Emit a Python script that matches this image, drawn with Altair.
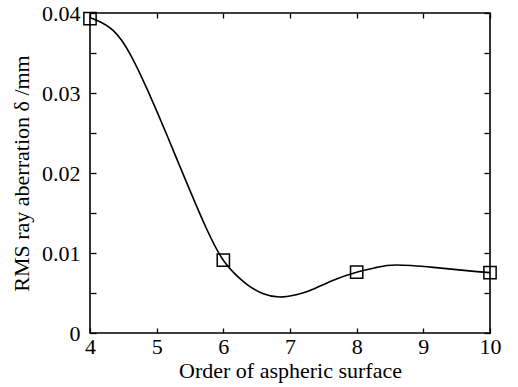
import altair as alt
import pandas as pd

# measured data points (markers)
order = [4, 6, 8, 10]
rms = [0.0393, 0.0091, 0.0076, 0.00755]

# fitted curve
curve_x = [4.0, 4.1, 4.35, 4.6, 4.85, 5.1, 5.25, 5.5, 5.75, 6.0, 6.25, 6.4, 6.6,
           6.85, 7.1, 7.3, 7.65, 8.0, 8.3, 8.6, 9.15, 9.65, 10.0]
curve_y = [0.0394, 0.0391, 0.0378, 0.0349, 0.0306, 0.0258, 0.0228, 0.0178, 0.0130,
           0.0091, 0.0068, 0.0058, 0.0049, 0.0045, 0.0048, 0.0053, 0.0066, 0.0076,
           0.0082, 0.0085, 0.0082, 0.0078, 0.00755]

x_ticks = [4, 5, 6, 7, 8, 9, 10]
y_ticks = [0, 0.005, 0.01, 0.015, 0.02, 0.025, 0.03, 0.035, 0.04]

pts = pd.DataFrame({"order": order, "rms": rms})
crv = pd.DataFrame({"order": curve_x, "rms": curve_y})

FONT = "Liberation Serif"
xscale = alt.Scale(domain=[4, 10], nice=False)
yscale = alt.Scale(domain=[0, 0.04], nice=False)

line = alt.Chart(crv).mark_line(color="black", strokeWidth=1.6, interpolate="natural").encode(
    x=alt.X("order:Q", scale=xscale,
            axis=alt.Axis(values=x_ticks, offset=-5, tickSize=5, domain=False,
                          labelPadding=3, format="d", labelFlush=False,
                          title="Order of aspheric surface", titlePadding=3)),
    y=alt.Y("rms:Q", scale=yscale,
            axis=alt.Axis(values=y_ticks, offset=-6, tickSize=6, domain=False,
                          labelPadding=10, format=".3~f",
                          labelExpr="length(datum.label) > 4 ? '' : datum.label",
                          labelFlush=False, labelOverlap=False,
                          title="RMS ray aberration δ /mm", titlePadding=8)),
)

frame_axes = alt.Chart(pts).mark_point(opacity=0).encode(
    x=alt.X("order:Q", scale=xscale,
            axis=alt.Axis(orient="top", values=x_ticks, offset=-5, tickSize=5,
                          domain=False, labels=False, title=None)),
    y=alt.Y("rms:Q", scale=yscale,
            axis=alt.Axis(orient="right", values=y_ticks, offset=-6, tickSize=6,
                          domain=False, labels=False, title=None)),
)

markers = alt.Chart(pts).mark_point(shape="square", size=150, filled=False,
                                     color="black", strokeWidth=1.5, opacity=1).encode(
    x=alt.X("order:Q", scale=xscale, axis=None),
    y=alt.Y("rms:Q", scale=yscale, axis=None),
)

chart = alt.layer(line, frame_axes, markers).resolve_axis(
    x="independent", y="independent"
).properties(
    width=400, height=320,
    autosize=alt.AutoSizeParams(type="none"),
    padding={"left": 90, "top": 13, "right": 28, "bottom": 54},
    background="white",
).configure_view(
    stroke="black", strokeWidth=1.6
).configure_axis(
    labelFont=FONT, titleFont=FONT, labelFontSize=22, titleFontSize=22,
    titleFontWeight="normal", labelColor="black", titleColor="black",
    tickColor="black", tickWidth=1.3, grid=False,
)

chart.save("out.html", embed_options={"renderer": "svg", "actions": False})
